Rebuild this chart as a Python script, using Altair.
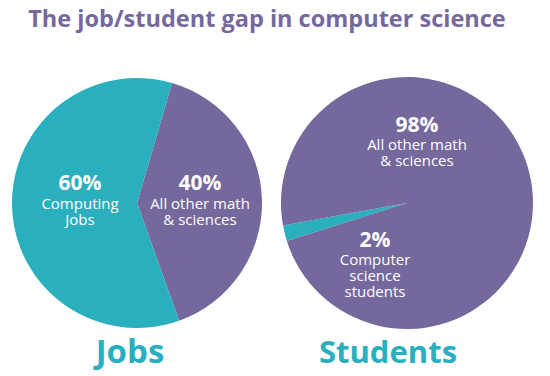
import math
import altair as alt
import pandas as pd

# ---- data ----
title_text = "The job/student gap in computer science"
jobs_groups = ["Other", "Computing"]
jobs_values = [40, 60]
jobs_pct_labels = ["40%", "60%"]
jobs_desc_labels = ["All other math\n& sciences", "Computing\nJobs"]

stud_groups = ["Computing", "Other"]
stud_values = [2, 98]
stud_pct_labels = ["2%", "98%"]
stud_desc_labels = ["Computer\nscience\nstudents", "All other math\n& sciences"]

panel_labels = ["Jobs", "Students"]

# ---- style ----
TEAL = "#2AAFBF"
PURPLE = "#75689C"
FONT = "Open Sans"

color_scale = alt.Scale(domain=["Computing", "Other"], range=[TEAL, PURPLE])

jobs_df = pd.DataFrame({"group": jobs_groups, "value": jobs_values,
                        "order": list(range(len(jobs_groups)))})
stud_df = pd.DataFrame({"group": stud_groups, "value": stud_values,
                        "order": list(range(len(stud_groups)))})


def pie(df, cx, cy, r, start_deg):
    a = math.radians(start_deg)
    return alt.Chart(df).mark_arc(radius=r, stroke=None).encode(
        theta=alt.Theta("value:Q", stack=True,
                        scale=alt.Scale(range=[a, a + 2 * math.pi])),
        order=alt.Order("order:Q"),
        color=alt.Color("group:N", scale=color_scale, legend=None),
        x=alt.value(cx), y=alt.value(cy),
    )


def label(text, x, y, size, weight, color="white", baseline="middle", lh=16):
    d = pd.DataFrame({"t": [text]})
    return alt.Chart(d).mark_text(
        font=FONT, fontSize=size, fontWeight=weight, color=color,
        align="center", baseline=baseline, lineBreak="\n", lineHeight=lh,
    ).encode(text="t:N", x=alt.value(x), y=alt.value(y))


layers = [
    pie(jobs_df, 129, 195, 125, 16.3),
    pie(stud_df, 399, 195, 126, 252.5),
    label(title_text, 259, 19, 23.5, "bold", PURPLE, baseline="alphabetic"),
    # jobs labels
    label(jobs_pct_labels[1], 72, 176, 21, "bold"),
    label(jobs_desc_labels[1], 72, 189, 15, "normal", baseline="top"),
    label(jobs_pct_labels[0], 192, 176, 21, "bold"),
    label(jobs_desc_labels[0], 192, 189, 15, "normal", baseline="top"),
    # students labels
    label(stud_pct_labels[1], 409, 118, 21, "bold"),
    label(stud_desc_labels[1], 409, 130, 15, "normal", baseline="top"),
    label(stud_pct_labels[0], 367, 233, 21, "bold"),
    label(stud_desc_labels[0], 367, 245, 15, "normal", baseline="top"),
    # panel labels
    label(panel_labels[0], 122, 355, 33, "bold", TEAL, baseline="alphabetic"),
    label(panel_labels[1], 380, 355, 31, "bold", TEAL, baseline="alphabetic"),
]

chart = alt.layer(*layers).resolve_scale(theta="independent").properties(
    width=534, height=366, autosize=alt.AutoSizeParams(type="none"), padding=0,
).configure_view(stroke=None)

chart.save("out.html", embed_options={"renderer": "svg", "actions": False})
